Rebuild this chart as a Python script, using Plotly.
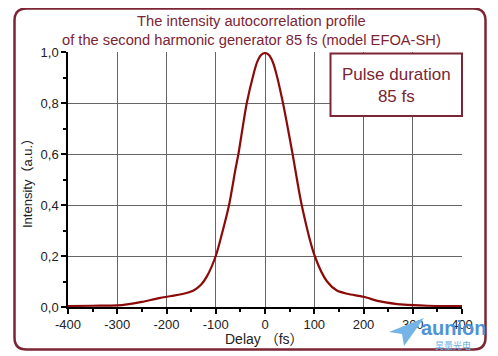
import plotly.graph_objects as go

# Data
delay = [-400, -350, -300, -280, -250, -215, -190, -170, -145, -130, -118, -100, -87, -73, -60, -54, -37, -23, -16, -8, 0,
         8, 16, 23, 36.5, 56, 74.5, 101, 126, 146, 167, 200, 234, 282, 330, 400]
intensity = [0.004, 0.005, 0.006, 0.01, 0.02, 0.035, 0.043, 0.05, 0.065, 0.087, 0.12, 0.2, 0.29, 0.4, 0.54, 0.6, 0.8, 0.915, 0.96, 0.988, 0.996,
             0.988, 0.96, 0.915, 0.8, 0.6, 0.4, 0.2, 0.10, 0.065, 0.052, 0.04, 0.022, 0.009, 0.005, 0.004]

x_tickvals = [-400, -300, -200, -100, 0, 100, 200, 300, 400]
x_ticktext = ["-400", "-300", "-200", "-100", "0", "100", "200", "300", "400"]
y_tickvals = [0.0, 0.2, 0.4, 0.6, 0.8, 1.0]
y_ticktext = ["0,0", "0,2", "0,4", "0,6", "0,8", "1,0"]

title_text = "The intensity autocorrelation profile<br>of the second harmonic generator 85 fs (model EFOA-SH)"
box_text = "Pulse duration<br>85 fs"
x_title = "Delay （fs）"
y_title = "Intensity（a.u.）"

# the page body adds an 8px margin, so work in window pixels and shift
OFF = 8
W, H = 498 - OFF, 356 - OFF
L, R, T, B = 68, 462, 52, 307   # plot area in window pixels
MAROON = "#7b2535"
FONT = "Liberation Sans, Arial, Noto Sans CJK SC, sans-serif"


def px(x):
    return (x - L) / (R - L)


def py(y):
    return (B - y) / (B - T)


fig = go.Figure()
fig.add_trace(go.Scatter(x=delay, y=intensity, mode="lines",
                         line=dict(color="#8b0a0a", width=2.2, shape="spline", smoothing=0.8),
                         showlegend=False, hoverinfo="skip"))

# rounded outer frame
x0, y0, x1, y1, r = 14.5, 8.5, 485.5, 349.5, 12
path = (f"M {px(x0+r)},{py(y0)} L {px(x1-r)},{py(y0)} Q {px(x1)},{py(y0)} {px(x1)},{py(y0+r)} "
        f"L {px(x1)},{py(y1-r)} Q {px(x1)},{py(y1)} {px(x1-r)},{py(y1)} "
        f"L {px(x0+r)},{py(y1)} Q {px(x0)},{py(y1)} {px(x0)},{py(y1-r)} "
        f"L {px(x0)},{py(y0+r)} Q {px(x0)},{py(y0)} {px(x0+r)},{py(y0)} Z")
shapes = [
    dict(type="path", xref="paper", yref="paper", path=path,
         line=dict(color=MAROON, width=2.5), fillcolor="rgba(0,0,0,0)", layer="below"),
    dict(type="rect", xref="paper", yref="paper",
         x0=px(330.5), x1=px(462), y0=py(116), y1=py(53.5),
         line=dict(color=MAROON, width=2), fillcolor="white", layer="above"),
    # logo plane
    dict(type="path", xref="paper", yref="paper",
         path=f"M {px(389)},{py(332)} L {px(424)},{py(318)} L {px(404)},{py(346)} L {px(402)},{py(334)} Z",
         line=dict(width=0), fillcolor="#74b4e6", layer="above"),
]

annotations = [
    dict(text=title_text, xref="paper", yref="paper", x=px(251), y=py(30), showarrow=False,
         font=dict(family=FONT, size=14.7, color=MAROON), align="center", xanchor="center", yanchor="middle"),
    dict(text=box_text, xref="paper", yref="paper", x=px(396), y=py(85), showarrow=False,
         font=dict(family=FONT, size=17, color=MAROON), align="center", xanchor="center", yanchor="middle"),
    dict(text=y_title, xref="paper", yref="paper", x=px(27), y=py(180), showarrow=False, textangle=-90,
         font=dict(family=FONT, size=13, color="#222"), xanchor="center", yanchor="middle"),
    dict(text=x_title, xref="paper", yref="paper", x=px(264), y=py(339), showarrow=False,
         font=dict(family=FONT, size=14, color="#222"), xanchor="center", yanchor="middle"),
    dict(text="<b>aunion</b>", xref="paper", yref="paper", x=px(454), y=py(328), showarrow=False,
         font=dict(family=FONT, size=20, color="#4f93d6"), xanchor="center", yanchor="middle"),
    dict(text="昊量光电", xref="paper", yref="paper", x=px(453), y=py(345), showarrow=False,
         font=dict(family="Noto Sans CJK SC", size=9, color="#6aaee0"), xanchor="center", yanchor="middle"),
]

fig.update_layout(
    width=W, height=H,
    margin=dict(l=L - OFF, r=W - (R - OFF), t=T - OFF, b=H - (B - OFF)),
    paper_bgcolor="white", plot_bgcolor="white",
    font=dict(family=FONT, size=13, color="#222"),
    shapes=shapes, annotations=annotations,
    xaxis=dict(range=[-400, 400], tickvals=x_tickvals, ticktext=x_ticktext,
               showgrid=True, gridcolor="#666", gridwidth=1, zeroline=False,
               showline=True, linecolor="black", linewidth=1.5,
               ticks="outside", ticklen=5, tickcolor="black", tickwidth=1.5,
               minor=dict(dtick=50, ticks="outside", ticklen=3, tickcolor="black", showgrid=False),
               tickfont=dict(size=13, color="#222")),
    yaxis=dict(range=[0, 1.0], tickvals=y_tickvals, ticktext=y_ticktext,
               showgrid=True, gridcolor="#666", gridwidth=1, zeroline=False,
               showline=True, linecolor="black", linewidth=1.5,
               ticks="outside", ticklen=5, tickcolor="black", tickwidth=1.5,
               minor=dict(dtick=0.1, ticks="outside", ticklen=3, tickcolor="black", showgrid=False),
               tickfont=dict(size=13, color="#222")),
)

fig.write_html("out.html")
